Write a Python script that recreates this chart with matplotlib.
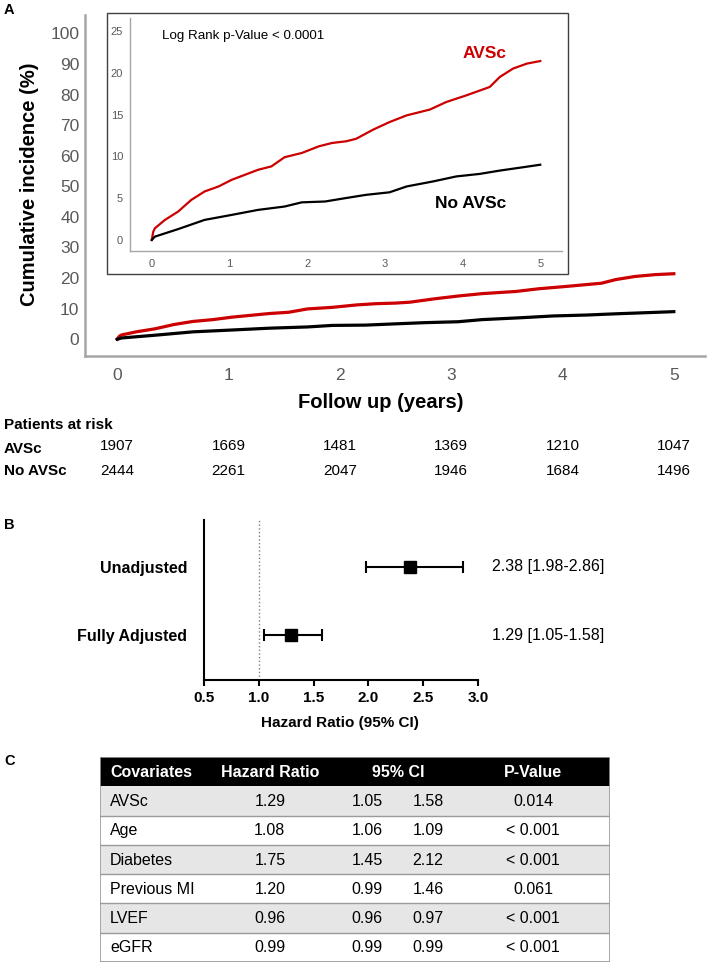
import numpy as np
import matplotlib.pyplot as plt
from matplotlib.patches import Rectangle
from matplotlib.transforms import blended_transform_factory

plt.rcParams['font.family'] = ['Liberation Sans', 'DejaVu Sans']

# --- data: cumulative incidence curves ---
t_avsc = [0, 0.02, 0.04, 0.17, 0.34, 0.51, 0.68, 0.86, 1.03, 1.20, 1.37, 1.54,
          1.71, 1.93, 2.15, 2.32, 2.50, 2.63, 2.85, 3.06, 3.28, 3.58, 3.79,
          4.05, 4.35, 4.48, 4.65, 4.83, 5.0]
inc_avsc = [0, 1.0, 1.4, 2.4, 3.4, 4.8, 5.8, 6.4, 7.2, 7.8, 8.4, 8.8,
            9.9, 10.4, 11.2, 11.6, 11.8, 12.1, 13.2, 14.1, 14.9, 15.6, 16.5,
            17.3, 18.3, 19.5, 20.5, 21.1, 21.4]
t_no = [0, 0.04, 0.34, 0.68, 1.03, 1.37, 1.71, 1.93, 2.23, 2.49, 2.76, 3.06,
        3.28, 3.62, 3.92, 4.22, 4.48, 4.78, 5.0]
inc_no = [0, 0.4, 1.3, 2.4, 3.0, 3.6, 4.0, 4.5, 4.6, 5.0, 5.4, 5.7,
          6.4, 7.0, 7.6, 7.9, 8.3, 8.7, 9.0]

years = [0, 1, 2, 3, 4, 5]
risk_avsc = [1907, 1669, 1481, 1369, 1210, 1047]
risk_no = [2444, 2261, 2047, 1946, 1684, 1496]

# --- data: forest plot ---
models = ['Unadjusted', 'Fully Adjusted']
hr = [2.38, 1.29]
hr_lo = [1.98, 1.05]
hr_hi = [2.86, 1.58]

# --- data: covariate table ---
cov_names = ['AVSc', 'Age', 'Diabetes', 'Previous MI', 'LVEF', 'eGFR']
cov_hr = ['1.29', '1.08', '1.75', '1.20', '0.96', '0.99']
cov_lo = ['1.05', '1.06', '1.45', '0.99', '0.96', '0.99']
cov_hi = ['1.58', '1.09', '2.12', '1.46', '0.97', '0.99']
cov_p = ['0.014', '< 0.001', '< 0.001', '0.061', '< 0.001', '< 0.001']
headers = ['Covariates', 'Hazard Ratio', '95% CI', 'P-Value']

W, H = 708, 967
fig = plt.figure(figsize=(W / 100, H / 100), dpi=100)


def rect(x0, y0, x1, y1):
    # pixel box (top-left origin) -> figure fraction
    return [x0 / W, 1 - y1 / H, (x1 - x0) / W, (y1 - y0) / H]


def ftext(x, y, s, **kw):
    fig.text(x / W, 1 - y / H, s, **kw)


RED = '#cc0000'
GTXT = '#595959'
GAX = '#a6a6a6'

# ---------------- panel A: main axes ----------------
ax = fig.add_axes(rect(85, 15, 705, 356))
ax.plot(t_avsc, inc_avsc, color=RED, lw=2.3)
ax.plot(t_no, inc_no, color='black', lw=2.3)
ax.set_xlim(-0.29, 5.28)
ax.set_ylim(-5.5, 106)
ax.set_xticks(years)
ax.set_yticks(range(0, 101, 10))
for s in ['top', 'right']:
    ax.spines[s].set_visible(False)
for s in ['left', 'bottom']:
    ax.spines[s].set_color(GAX)
    ax.spines[s].set_linewidth(1.8)
ax.tick_params(length=0, labelsize=12.5, labelcolor=GTXT)
ax.tick_params(axis='y', pad=4)
ax.tick_params(axis='x', pad=9)

ftext(30, 184, 'Cumulative incidence (%)', rotation=90, fontsize=14.5,
      fontweight='bold', ha='center', va='center')
ftext(381, 402, 'Follow up (years)', fontsize=14.5, fontweight='bold',
      ha='center', va='center')
ftext(4, 10, 'A', fontsize=10.5, fontweight='bold', va='center')

# patients at risk
tr = blended_transform_factory(ax.transData, fig.transFigure)
ftext(4, 425, 'Patients at risk', fontsize=11, fontweight='bold', va='center')
ftext(4, 449, 'AVSc', fontsize=11, fontweight='bold', va='center')
ftext(4, 471, 'No AVSc', fontsize=11, fontweight='bold', va='center')
for t, a, b in zip(years, risk_avsc, risk_no):
    ax.text(t, 1 - 446 / H, str(a), transform=tr, ha='center', va='center',
            fontsize=11, clip_on=False)
    ax.text(t, 1 - 471 / H, str(b), transform=tr, ha='center', va='center',
            fontsize=11, clip_on=False)

# ---------------- panel A: inset ----------------
fig.patches.append(Rectangle((107 / W, 1 - 274 / H), 461 / W, 261 / H,
                             transform=fig.transFigure, fill=False,
                             edgecolor='#404040', lw=1.0))
axi = fig.add_axes(rect(130, 18, 562, 251))
axi.patch.set_alpha(0)
axi.plot(t_avsc, inc_avsc, color=RED, lw=1.6)
axi.plot(t_no, inc_no, color='black', lw=1.6)
axi.set_xlim(-0.28, 5.28)
axi.set_ylim(-1.32, 26.55)
axi.set_xticks(years)
axi.set_yticks([0, 5, 10, 15, 20, 25])
for s in ['top', 'right']:
    axi.spines[s].set_visible(False)
for s in ['left', 'bottom']:
    axi.spines[s].set_color(GAX)
    axi.spines[s].set_linewidth(1.0)
axi.tick_params(length=0, labelsize=8, labelcolor=GTXT)
axi.tick_params(axis='y', pad=5)
axi.tick_params(axis='x', pad=6)
ftext(162, 36, 'Log Rank p-Value < 0.0001', fontsize=9.6, va='center')
ftext(485, 54, 'AVSc', fontsize=12.5, fontweight='bold', color=RED,
      ha='center', va='center')
ftext(471, 203, 'No AVSc', fontsize=12.5, fontweight='bold',
      ha='center', va='center')

# ---------------- panel B: forest plot ----------------
ftext(4, 525, 'B', fontsize=10.5, fontweight='bold', va='center')
axb = fig.add_axes(rect(204, 520, 478, 680))
ypos = [2, 1]
axb.axvline(1.0, color='#808080', ls=':', lw=1.0)
for y, m, lo, hi in zip(ypos, hr, hr_lo, hr_hi):
    axb.errorbar(m, y, xerr=[[m - lo], [hi - m]], fmt='s', color='black',
                 ms=8, capsize=4, elinewidth=1.5, capthick=1.5)
axb.set_xlim(0.5, 3.0)
axb.set_ylim(0.34, 2.69)
axb.set_xticks([0.5, 1.0, 1.5, 2.0, 2.5, 3.0])
axb.set_xticklabels(['%.1f' % v for v in [0.5, 1.0, 1.5, 2.0, 2.5, 3.0]],
                    fontweight='bold')
axb.set_yticks(ypos)
axb.set_yticklabels(models, fontweight='bold')
for s in ['top', 'right']:
    axb.spines[s].set_visible(False)
for s in ['left', 'bottom']:
    axb.spines[s].set_linewidth(1.5)
axb.tick_params(axis='y', length=0, pad=12, labelsize=11.5)
axb.tick_params(axis='x', length=4, width=1.5, pad=4, labelsize=11)
for y, m, lo, hi in zip(ypos, hr, hr_lo, hr_hi):
    axb.text(3.13, y, '%.2f [%.2f-%.2f]' % (m, lo, hi), fontsize=11.5,
             va='center', clip_on=False)
ftext(340, 723, 'Hazard Ratio (95% CI)', fontsize=11, fontweight='bold',
      ha='center', va='center')

# ---------------- panel C: table ----------------
ftext(4, 761, 'C', fontsize=10.5, fontweight='bold', va='center')
axc = fig.add_axes(rect(100, 757, 610, 962))
axc.set_xlim(0, 1)
nrow = len(cov_names)
axc.set_ylim(nrow + 1, 0)
axc.axis('off')
axc.add_patch(Rectangle((0, 0), 1, 1, facecolor='black', edgecolor='none'))
for i in range(nrow):
    fc = '#e6e6e6' if i % 2 == 0 else 'white'
    axc.add_patch(Rectangle((0, i + 1), 1, 1, facecolor=fc,
                            edgecolor='none'))
    axc.plot([0, 1], [i + 2, i + 2], color='#9a9a9a', lw=1.0)
axc.add_patch(Rectangle((0, 0), 1, nrow + 1, fill=False,
                        edgecolor='#9a9a9a', lw=1.2))
hx = [0.02, 0.333, 0.584, 0.849]
hha = ['left', 'center', 'center', 'center']
for x, h, a in zip(hx, headers, hha):
    axc.text(x, 0.52, h, color='white', fontweight='bold', fontsize=11.5,
             ha=a, va='center')
for i in range(nrow):
    y = i + 1.52
    axc.text(0.02, y, cov_names[i], fontsize=11.5, ha='left', va='center')
    axc.text(0.333, y, cov_hr[i], fontsize=11.5, ha='center', va='center')
    axc.text(0.524, y, cov_lo[i], fontsize=11.5, ha='center', va='center')
    axc.text(0.643, y, cov_hi[i], fontsize=11.5, ha='center', va='center')
    axc.text(0.849, y, cov_p[i], fontsize=11.5, ha='center', va='center')

plt.savefig('out.png', dpi=100)
